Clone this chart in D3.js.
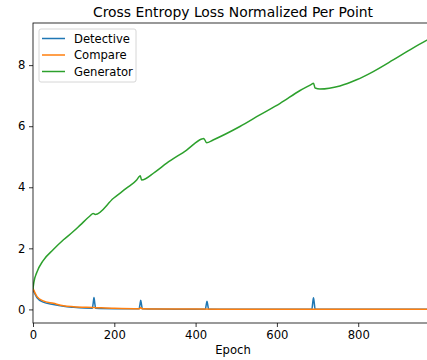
<!DOCTYPE html>
<html><head><meta charset="utf-8">
<script src="https://cdn.jsdelivr.net/npm/d3@7"></script>
<style>body{margin:0;background:#fff}svg{display:block}text{font-family:"DejaVu Sans",sans-serif}</style>
</head><body>
<svg id="c" width="427" height="360"></svg>
<script>
const title = "Cross Entropy Loss Normalized Per Point";
const xLabel = "Epoch";
const xTicks = [0, 200, 400, 600, 800];
const yTicks = [0, 2, 4, 6, 8];
const seriesNames = ["Detective", "Compare", "Generator"];
const seriesColors = ["#1f77b4", "#ff7f0e", "#2ca02c"];

const genX = [0, 2, 9, 25, 50, 75, 99, 116, 140, 148, 153, 198, 230, 255, 262, 264, 267, 300, 329, 378, 415, 420, 427, 443, 509, 558, 608, 657, 686, 690, 694, 706, 755, 796, 837, 886, 927, 968, 984];
const genY = [0.68, 0.88, 1.2, 1.6, 1.96, 2.28, 2.55, 2.76, 3.06, 3.14, 3.11, 3.64, 3.97, 4.24, 4.36, 4.38, 4.24, 4.5, 4.79, 5.22, 5.58, 5.6, 5.46, 5.55, 5.99, 6.37, 6.75, 7.17, 7.38, 7.41, 7.25, 7.22, 7.32, 7.52, 7.79, 8.17, 8.5, 8.81, 8.92];

const detX = [0, 10, 25, 50, 75, 100, 146, 148, 150, 152, 154, 200, 261, 263, 265, 267, 269, 300, 424, 426, 428, 430, 432, 500, 686, 688, 690, 692, 694, 800, 984];
const detY = [0.65, 0.38, 0.24, 0.16, 0.1, 0.07, 0.04, 0.2, 0.39, 0.2, 0.04, 0.025, 0.02, 0.15, 0.3, 0.15, 0.02, 0.01, 0.005, 0.14, 0.27, 0.14, 0.005, 0.003, 0.003, 0.2, 0.38, 0.2, 0.003, 0.002, 0.002];

const cmpX = [0, 10, 25, 50, 75, 100, 148, 200, 262, 265, 268, 300, 400, 500, 700, 984];
const cmpY = [0.68, 0.42, 0.28, 0.2, 0.12, 0.09, 0.065, 0.035, 0.02, 0.06, 0.02, 0.015, 0.01, 0.008, 0.006, 0.005];

const svg = d3.select("#c");
const m = {l: 33, t: 23, r: 433, b: 323};
const x = d3.scaleLinear().domain([0, 984]).range([m.l, m.r]);
const y = d3.scaleLinear().domain([-0.445, 9.38]).range([m.b, m.t]);

svg.append("clipPath").attr("id", "clp").append("rect")
  .attr("x", m.l).attr("y", m.t).attr("width", m.r - m.l).attr("height", m.b - m.t);

const line = d3.line().x(d => x(d[0])).y(d => y(d[1])).curve(d3.curveMonotoneX);
const data = [
  d3.zip(detX, detY),
  d3.zip(cmpX, cmpY),
  d3.zip(genX, genY)
];
const g = svg.append("g").attr("clip-path", "url(#clp)");
data.forEach((d, i) => {
  g.append("path").datum(d).attr("d", line).attr("fill", "none")
    .attr("stroke", seriesColors[i]).attr("stroke-width", 1.5)
    .attr("stroke-linejoin", "round").attr("stroke-linecap", "square");
});

const fs = 11.6;
const xa = svg.append("g").attr("transform", `translate(0,${m.b})`)
  .call(d3.axisBottom(x).tickValues(xTicks).tickSize(4).tickPadding(3.5));
const ya = svg.append("g").attr("transform", `translate(${m.l},0)`)
  .call(d3.axisLeft(y).tickValues(yTicks).tickSize(4).tickPadding(3.5));
[xa, ya].forEach(a => {
  a.select(".domain").remove();
  a.selectAll("line").attr("stroke", "#000").attr("stroke-width", 0.8);
  a.selectAll("text").attr("font-size", fs).attr("fill", "#000").attr("font-family", "DejaVu Sans");
});
svg.append("rect").attr("x", m.l).attr("y", m.t).attr("width", m.r - m.l).attr("height", m.b - m.t)
  .attr("fill", "none").attr("stroke", "#000").attr("stroke-width", 0.8);

svg.append("text").attr("x", (m.l + m.r) / 2).attr("y", 17).attr("text-anchor", "middle")
  .attr("font-size", 13.9).text(title);
svg.append("text").attr("x", (m.l + m.r) / 2).attr("y", 354).attr("text-anchor", "middle")
  .attr("font-size", fs).text(xLabel);

const lg = svg.append("g");
lg.append("rect").attr("x", 39).attr("y", 29).attr("width", 97).attr("height", 53).attr("rx", 2)
  .attr("fill", "#fff").attr("fill-opacity", 0.8).attr("stroke", "#ccc").attr("stroke-width", 0.8);
seriesNames.forEach((n, i) => {
  const yy = 38.5 + i * 16.5;
  lg.append("line").attr("x1", 42).attr("x2", 65).attr("y1", yy).attr("y2", yy)
    .attr("stroke", seriesColors[i]).attr("stroke-width", 1.5);
  lg.append("text").attr("x", 74).attr("y", yy + 4).attr("font-size", fs).text(n);
});
</script>
</body></html>
